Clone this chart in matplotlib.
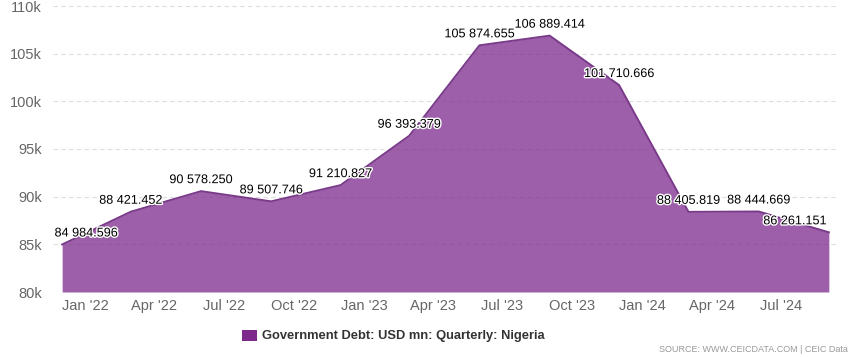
import datetime as dt

import matplotlib.pyplot as plt
import matplotlib.dates as mdates
import matplotlib.patheffects as pe
from matplotlib.patches import Rectangle

plt.rcParams['font.family'] = ['Liberation Sans', 'DejaVu Sans']

# quarterly observations (first day of the quarter's last month)
dates = [dt.date(2021, 12, 1), dt.date(2022, 3, 1), dt.date(2022, 6, 1), dt.date(2022, 9, 1),
         dt.date(2022, 12, 1), dt.date(2023, 3, 1), dt.date(2023, 6, 1), dt.date(2023, 9, 1),
         dt.date(2023, 12, 1), dt.date(2024, 3, 1), dt.date(2024, 6, 1), dt.date(2024, 9, 1)]
debt = [84984.596, 88421.452, 90578.250, 89507.746, 91210.827, 96393.379,
        105874.655, 106889.414, 101710.666, 88405.819, 88444.669, 86261.151]
labels = ['84 984.596', '88 421.452', '90 578.250', '89 507.746', '91 210.827', '96 393.379',
          '105 874.655', '106 889.414', '101 710.666', '88 405.819', '88 444.669', '86 261.151']
y_ticks = [80000, 85000, 90000, 95000, 100000, 105000, 110000]
y_tick_labels = ['80k', '85k', '90k', '95k', '100k', '105k', '110k']
x_ticks = [dt.date(2022, 1, 1), dt.date(2022, 4, 1), dt.date(2022, 7, 1), dt.date(2022, 10, 1),
           dt.date(2023, 1, 1), dt.date(2023, 4, 1), dt.date(2023, 7, 1), dt.date(2023, 10, 1),
           dt.date(2024, 1, 1), dt.date(2024, 4, 1), dt.date(2024, 7, 1)]
x_tick_labels = ["Jan '22", "Apr '22", "Jul '22", "Oct '22", "Jan '23", "Apr '23",
                 "Jul '23", "Oct '23", "Jan '24", "Apr '24", "Jul '24"]
series_name = 'Government Debt: USD mn: Quarterly: Nigeria'

color = '#7d2a8c'

fig = plt.figure(figsize=(8.58, 3.57), dpi=100)
ax = fig.add_axes([53 / 858, 65 / 357, 785 / 858, 286 / 357])

ax.fill_between(dates, debt, 80000, color=color, alpha=0.75, linewidth=0, zorder=2)
ax.plot(dates, debt, color='#7a3a8a', linewidth=1.4, zorder=3)

pad = dt.timedelta(days=12)
ax.set_xlim(dates[0] - pad, dates[-1] + pad)
ax.set_ylim(80000, 110000)

ax.set_yticks(y_ticks)
ax.set_yticklabels(y_tick_labels)
ax.set_xticks(x_ticks)
ax.set_xticklabels(x_tick_labels)
ax.tick_params(axis='y', length=0, pad=8, labelsize=10.5, labelcolor='#666666')
ax.tick_params(axis='x', length=0, pad=5, labelsize=10.5, labelcolor='#666666')

ax.grid(axis='y', color='#dddddd', linestyle=(0, (4, 3)), linewidth=0.8, zorder=0)
for s in ax.spines.values():
    s.set_visible(False)

# data labels
for i, (d, v, lab) in enumerate(zip(dates, debt, labels)):
    dx = 0
    if i == 0:
        dx = 24
    elif i == len(dates) - 1:
        dx = -34
    ax.annotate(lab, (mdates.date2num(d), v), xytext=(dx, 11), textcoords='offset pixels',
                ha='center', va='center', fontsize=9.1, color='black', zorder=5,
                path_effects=[pe.withStroke(linewidth=2, foreground='white')])

# legend
fig.patches.append(Rectangle((242 / 858, 1 - 341 / 357), 15 / 858, 11 / 357,
                             transform=fig.transFigure, facecolor=color, edgecolor='none'))
fig.text(262 / 858, 1 - 336 / 357, series_name, fontsize=9.3, fontweight='bold',
         color='#333333', ha='left', va='center')

fig.text(848 / 858, 1 - 350 / 357, 'SOURCE: WWW.CEICDATA.COM | CEIC Data', fontsize=6.5,
         color='#999999', ha='right', va='center')

fig.savefig('out.png', dpi=100)
